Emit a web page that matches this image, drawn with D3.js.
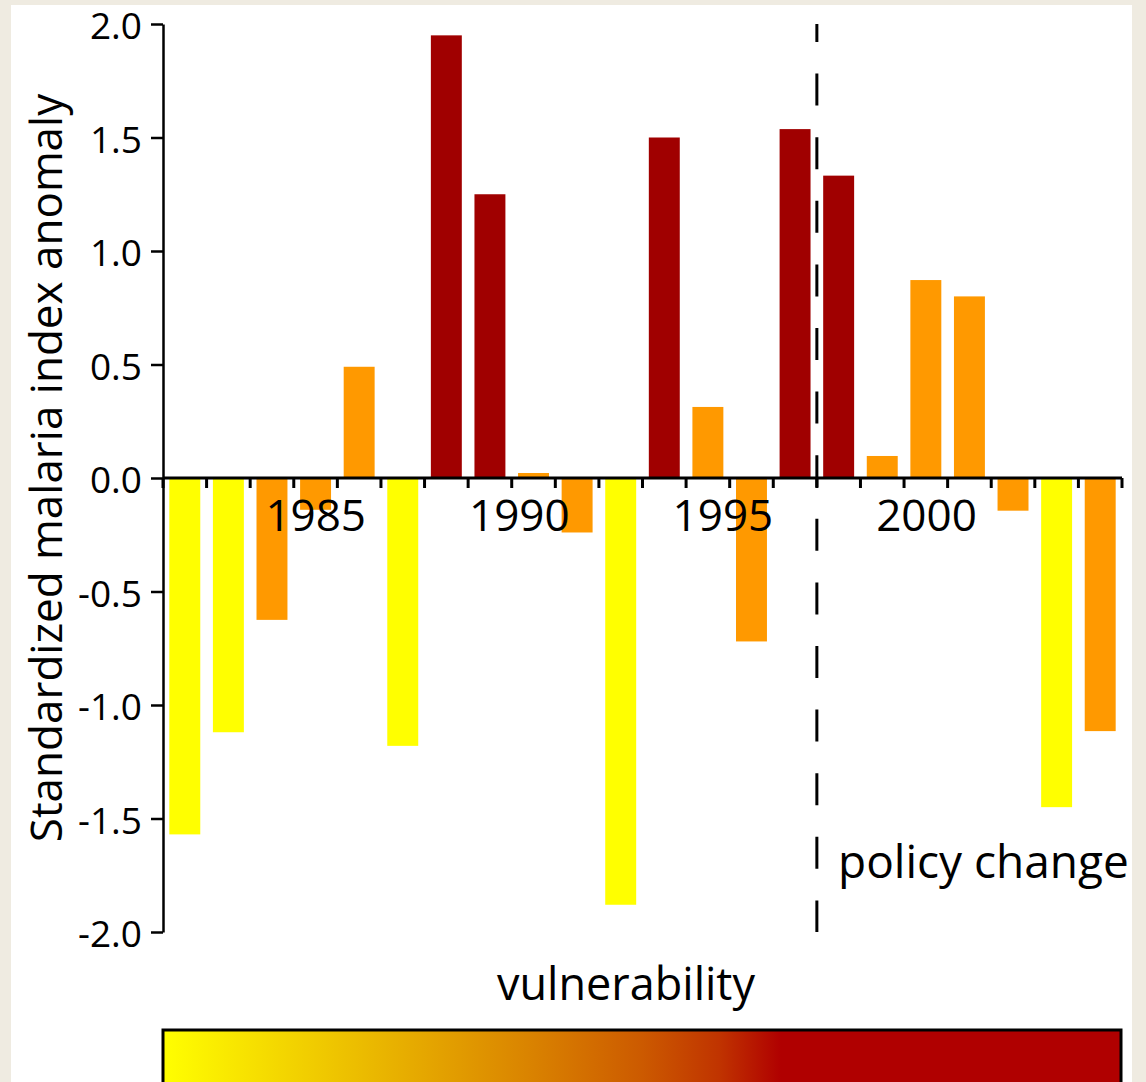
<!DOCTYPE html>
<html>
<head>
<meta charset="utf-8">
<script src="https://cdn.jsdelivr.net/npm/d3@7"></script>
<style>
  html, body { margin: 0; padding: 0; background: #efebe1; }
  svg { display: block; }
  text { font-family: "Open Sans", "Noto Sans", sans-serif; fill: #000; }
</style>
</head>
<body>
<svg id="chart" width="1146" height="1082"></svg>
<script>
// Years shown as bars
const years = [1982, 1983, 1984, 1985, 1986, 1987, 1988, 1989, 1990, 1991, 1992,
               1993, 1994, 1995, 1996, 1997, 1998, 1999, 2000, 2001, 2002, 2003];
// Standardized malaria index anomaly per year
const anomalies = [-1.57, -1.12, -0.625, -0.14, 0.49, -1.18, 1.95, 1.25, 0.022, -0.24, -1.88,
                   1.50, 0.313, -0.72, 1.537, 1.332, 0.097, 0.872, 0.80, -0.144, -1.45, -1.115];
// Vulnerability class per year: 0 = low, 1 = medium, 2 = high
const vulnerability = [0, 0, 1, 1, 1, 0, 2, 2, 1, 1, 0,
                       2, 1, 1, 2, 2, 1, 1, 1, 1, 0, 1];
const classColors = ["#ffff00", "#ff9900", "#a00000"];
// Y axis ticks
const yTicks = [-2.0, -1.5, -1.0, -0.5, 0.0, 0.5, 1.0, 1.5, 2.0];
// Year labels under the axis
const yearLabels = [1985, 1990, 1995, 2000];
// First year after the policy change
const policyYear = 1997;
// Colour ramp of the vulnerability key
const rampStops = [
  [0.00, "#ffff00"], [0.10, "#f6de00"], [0.25, "#e7ae00"], [0.38, "#da8400"],
  [0.50, "#cc5a00"], [0.58, "#c03400"], [0.645, "#b00000"], [1.00, "#b00000"]
];

const svg = d3.select("#chart");

// white panel
svg.append("rect").attr("x", 11).attr("y", 5).attr("width", 1121).attr("height", 1090).attr("fill", "#fff");

const plotLeft = 163, plotRight = 1122, plotTop = 24, plotBottom = 932;

const x = d3.scaleBand().domain(years).range([plotLeft, plotRight]).paddingInner(0.29).paddingOuter(0.145);
const y = d3.scaleLinear().domain([-2, 2]).range([plotBottom, plotTop]);
const xLab = d3.scaleLinear().domain([1981.25, 2004.8]).range([plotLeft, plotRight]);

// bars
svg.append("g").selectAll("rect").data(years).join("rect")
  .attr("x", d => x(d))
  .attr("width", x.bandwidth())
  .attr("y", (d, i) => y(Math.max(0, anomalies[i])))
  .attr("height", (d, i) => Math.abs(y(anomalies[i]) - y(0)))
  .attr("fill", (d, i) => classColors[vulnerability[i]]);

// y axis, labels with a plain hyphen for negatives
const fmt = d3.format(".1f");
const yAxis = svg.append("g").attr("transform", `translate(${plotLeft},0)`)
  .call(d3.axisLeft(y).tickValues(yTicks).tickFormat(d => fmt(d).replace("\u2212", "-"))
    .tickSize(12).tickPadding(9).tickSizeOuter(0));
yAxis.select(".domain").attr("stroke-width", 2.5);
yAxis.selectAll(".tick line").attr("stroke-width", 2.5);
yAxis.selectAll(".tick text").attr("font-size", 37).attr("dy", "0.4em")
  .style("font-family", "'Open Sans', sans-serif");

// x axis: ticks at the bar boundaries
const step = x.step();
const boundaries = d3.range(years.length + 1).map(i => plotLeft + i * step);
const xg = svg.append("g");
xg.append("line").attr("x1", plotLeft).attr("x2", plotRight).attr("y1", y(0)).attr("y2", y(0))
  .attr("stroke", "#000").attr("stroke-width", 3);
xg.selectAll("line.tk").data(boundaries).join("line").attr("class", "tk")
  .attr("x1", d => d).attr("x2", d => d).attr("y1", y(0)).attr("y2", y(0) + 10)
  .attr("stroke", "#000").attr("stroke-width", 3);

// year labels
svg.append("g").selectAll("text").data(yearLabels).join("text")
  .attr("x", d => xLab(d)).attr("y", 531)
  .attr("text-anchor", "middle").attr("font-size", 44)
  .text(d => d);

// policy change marker
const px = x(policyYear) - (step - x.bandwidth()) / 2;
svg.append("line").attr("x1", px).attr("x2", px).attr("y1", plotTop).attr("y2", plotBottom)
  .attr("stroke", "#000").attr("stroke-width", 3)
  .attr("stroke-dasharray", "32 31.6").attr("stroke-dashoffset", 14);
svg.append("text").attr("x", 838).attr("y", 878).attr("font-size", 46).text("policy change");

// y axis title
svg.append("text")
  .attr("transform", `translate(62,468) rotate(-90)`)
  .attr("text-anchor", "middle").attr("font-size", 44)
  .text("Standardized malaria index anomaly");

// vulnerability key
svg.append("text").attr("x", 626).attr("y", 1000).attr("text-anchor", "middle")
  .attr("font-size", 45).text("vulnerability");

const defs = svg.append("defs");
const grad = defs.append("linearGradient").attr("id", "vulnRamp").attr("x1", "0%").attr("x2", "100%");
grad.selectAll("stop").data(rampStops).join("stop")
  .attr("offset", d => d[0]).attr("stop-color", d => d[1]);
svg.append("rect").attr("x", 163).attr("y", 1030).attr("width", 958).attr("height", 70)
  .attr("fill", "url(#vulnRamp)").attr("stroke", "#000").attr("stroke-width", 3);
</script>
</body>
</html>
